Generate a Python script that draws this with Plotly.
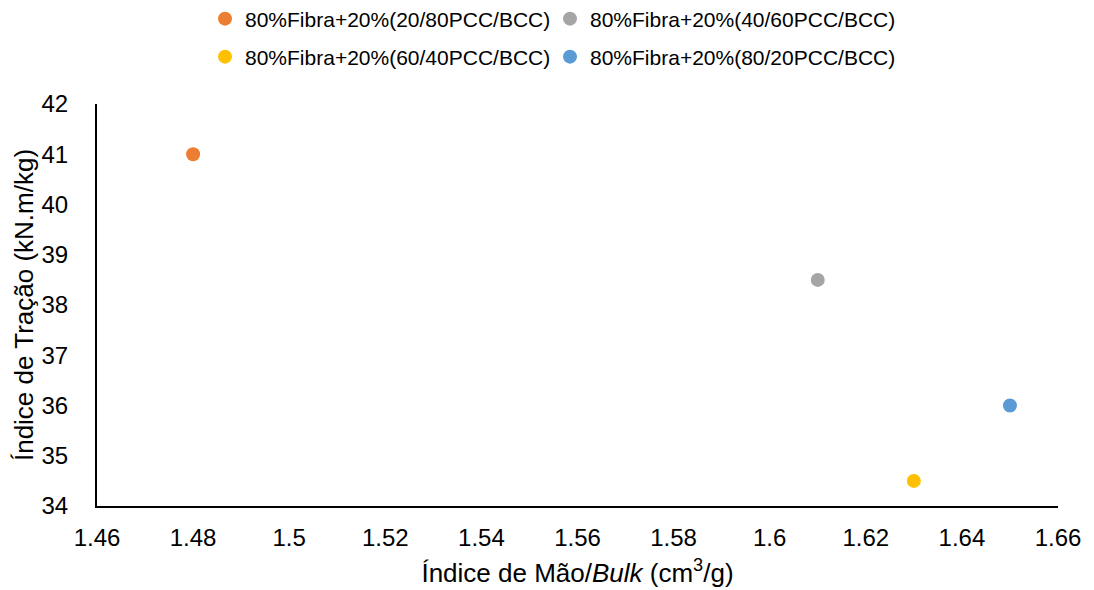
import plotly.graph_objects as go

names = ["80%Fibra+20%(20/80PCC/BCC)", "80%Fibra+20%(40/60PCC/BCC)",
         "80%Fibra+20%(60/40PCC/BCC)", "80%Fibra+20%(80/20PCC/BCC)"]
bulk = [1.48, 1.61, 1.63, 1.65]
tracao = [41.0, 38.5, 34.5, 36.0]
colors = ["#ED7D31", "#A5A5A5", "#FFC000", "#5B9BD5"]
legend_ids = ["legend", "legend", "legend2", "legend2"]

fig = go.Figure()
for n, x, y, c, lg in zip(names, bulk, tracao, colors, legend_ids):
    fig.add_trace(go.Scatter(x=[x], y=[y], mode="markers", name=n, legend=lg,
                             marker=dict(color=c, size=14)))

leg_common = dict(orientation="h", x=205 / 1094, xanchor="left", xref="container",
                  yref="container", yanchor="middle", entrywidth=300,
                  entrywidthmode="pixels", font=dict(size=21),
                  bgcolor="rgba(0,0,0,0)")

fig.update_layout(
    width=1094, height=590,
    paper_bgcolor="white", plot_bgcolor="white",
    margin=dict(l=97, r=36, t=104, b=84),
    font=dict(family="Liberation Sans, Arial, sans-serif", color="black"),
    legend=dict(y=1 - 19 / 590, **leg_common),
    legend2=dict(y=1 - 57 / 590, **leg_common),
    showlegend=True,
)
fig.update_xaxes(range=[1.46, 1.66], tick0=1.46, dtick=0.02, showgrid=False,
                 zeroline=False, showline=True, linecolor="black", linewidth=2,
                 tickfont=dict(size=24), ticklabelstandoff=9, automargin=False,
                 title=dict(text="Índice de Mão/<i>Bulk</i> (cm<sup>3</sup>/g)",
                            font=dict(size=26), standoff=14))
fig.update_yaxes(range=[34, 42], dtick=1, showgrid=False, zeroline=False,
                 showline=True, linecolor="black", linewidth=2, automargin=False,
                 tickfont=dict(size=24), ticklabelstandoff=22,
                 title=dict(text="Índice de Tração (kN.m/kg)", font=dict(size=26), standoff=0))

fig.write_html("out.html")
